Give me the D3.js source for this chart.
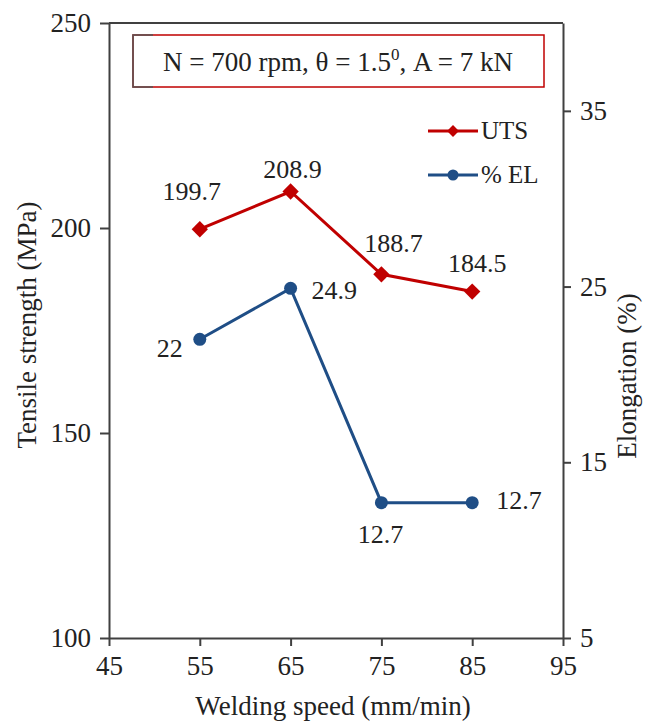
<!DOCTYPE html>
<html>
<head>
<meta charset="utf-8">
<script src="https://cdn.jsdelivr.net/npm/d3@7/dist/d3.min.js"></script>
<style>
  html, body { margin: 0; padding: 0; background: #fff; }
  svg { display: block; }
</style>
</head>
<body>
<svg id="chart" width="656" height="722"></svg>
<script>
// Welding speed (mm/min)
const speeds = [55, 65, 75, 85];
// Ultimate tensile strength (MPa)
const utsValues = [199.7, 208.9, 188.7, 184.5];
// Elongation (%)
const elValues = [22, 24.9, 12.7, 12.7];

const xTicks = [45, 55, 65, 75, 85, 95];
const yLeftTicks = [100, 150, 200, 250];
const yRightTicks = [5, 15, 25, 35];

const seriesNames = ["UTS", "% EL"];
const paramText = ["N = 700 rpm, θ = 1.5", "0", ", A = 7 kN"];

const RED = "#C00000";
const BLUE = "#1F4E86";
const AXIS = "#404040";
const INK = "#222222";
const SERIF = '"Liberation Serif", "Times New Roman", "DejaVu Serif", serif';

const svg = d3.select("#chart");
const m = { left: 109, right: 563, top: 23, bottom: 638 };

const x = d3.scaleLinear().domain([45, 95]).range([m.left, m.right]);
const yL = d3.scaleLinear().domain([100, 250]).range([m.bottom, m.top]);
const yR = d3.scaleLinear().domain([5, 40]).range([m.bottom, m.top]);

function txt(sel, size) {
  return sel.style("font-family", SERIF).style("font-size", size + "px").attr("fill", INK);
}

// top edge of plot area
svg.append("line")
  .attr("x1", m.left).attr("x2", m.right)
  .attr("y1", m.top).attr("y2", m.top)
  .attr("stroke", AXIS).attr("stroke-width", 2);

function styleAxis(g) {
  g.attr("font-family", null).attr("font-size", null);
  g.select(".domain").attr("stroke", AXIS).attr("stroke-width", 2);
  g.selectAll(".tick line").attr("stroke", AXIS).attr("stroke-width", 2);
  txt(g.selectAll(".tick text"), 27);
}

// bottom axis
svg.append("g")
  .attr("transform", `translate(0,${m.bottom})`)
  .call(d3.axisBottom(x).tickValues(xTicks).tickSize(8).tickPadding(10).tickSizeOuter(0))
  .call(styleAxis);

// left axis
svg.append("g")
  .attr("transform", `translate(${m.left},0)`)
  .call(d3.axisLeft(yL).tickValues(yLeftTicks).tickSize(9).tickPadding(9).tickSizeOuter(0))
  .call(styleAxis);

// right axis
svg.append("g")
  .attr("transform", `translate(${m.right},0)`)
  .call(d3.axisRight(yR).tickValues(yRightTicks).tickSize(8).tickPadding(9).tickSizeOuter(0))
  .call(styleAxis);

// axis titles
svg.append("text")
  .attr("x", (m.left + m.right) / 2 - 3).attr("y", 715)
  .attr("text-anchor", "middle")
  .call(txt, 27)
  .text("Welding speed (mm/min)");

svg.append("text")
  .attr("transform", "translate(36,325) rotate(-90)")
  .attr("text-anchor", "middle")
  .call(txt, 27)
  .text("Tensile strength (MPa)");

svg.append("text")
  .attr("transform", "translate(636,376) rotate(-90)")
  .attr("text-anchor", "middle")
  .call(txt, 27)
  .text("Elongation (%)");

// parameter box
const box = svg.append("g");
box.append("rect")
  .attr("x", 133).attr("y", 35).attr("width", 411).attr("height", 52)
  .attr("fill", "#fff").attr("stroke", RED).attr("stroke-width", 1.5);
box.append("path")
  .attr("d", "M153,35 H133 V87 H153")
  .attr("fill", "none").attr("stroke", "#555").attr("stroke-width", 1.5);
const pt = box.append("text")
  .attr("x", 338).attr("y", 71)
  .attr("text-anchor", "middle")
  .call(txt, 27);
pt.append("tspan").text(paramText[0]);
pt.append("tspan").attr("dy", -11).style("font-size", "17px").text(paramText[1]);
pt.append("tspan").attr("dy", 11).text(paramText[2]);

// series
const uts = speeds.map((s, i) => ({ x: s, y: utsValues[i] }));
const el = speeds.map((s, i) => ({ x: s, y: elValues[i] }));

const lineL = d3.line().x(d => x(d.x)).y(d => yL(d.y));
const lineR = d3.line().x(d => x(d.x)).y(d => yR(d.y));

svg.append("path").datum(uts)
  .attr("d", lineL).attr("fill", "none")
  .attr("stroke", RED).attr("stroke-width", 3);
svg.append("path").datum(el)
  .attr("d", lineR).attr("fill", "none")
  .attr("stroke", BLUE).attr("stroke-width", 3);

const diamond = d3.symbol().type(d3.symbolDiamond2).size(170);
svg.selectAll(".uts-pt").data(uts).join("path")
  .attr("transform", d => `translate(${x(d.x)},${yL(d.y)})`)
  .attr("d", diamond).attr("fill", RED);

svg.selectAll(".el-pt").data(el).join("circle")
  .attr("cx", d => x(d.x)).attr("cy", d => yR(d.y))
  .attr("r", 6.5).attr("fill", BLUE);

// value labels: offsets relative to each point
const utsOffsets = [[-8, -29], [2, -14], [12, -22], [5, -20]];
const elOffsets = [[-17, 18, "end"], [21, 11, "start"], [-1, 40, "middle"], [24, 6, "start"]];

svg.selectAll(".uts-lbl").data(uts).join("text")
  .attr("x", (d, i) => x(d.x) + utsOffsets[i][0])
  .attr("y", (d, i) => yL(d.y) + utsOffsets[i][1])
  .attr("text-anchor", "middle")
  .call(txt, 26)
  .text(d => d.y);

svg.selectAll(".el-lbl").data(el).join("text")
  .attr("x", (d, i) => x(d.x) + elOffsets[i][0])
  .attr("y", (d, i) => yR(d.y) + elOffsets[i][1])
  .attr("text-anchor", (d, i) => elOffsets[i][2])
  .call(txt, 26)
  .text(d => d.y);

// legend
const legend = svg.append("g");
const legendRows = [
  { name: seriesNames[0], color: RED, y: 131, mark: "diamond" },
  { name: seriesNames[1], color: BLUE, y: 175, mark: "circle" }
];
legendRows.forEach(r => {
  legend.append("line")
    .attr("x1", 428).attr("x2", 478).attr("y1", r.y).attr("y2", r.y)
    .attr("stroke", r.color).attr("stroke-width", 3);
  if (r.mark === "diamond") {
    legend.append("path")
      .attr("transform", `translate(453,${r.y})`)
      .attr("d", d3.symbol().type(d3.symbolDiamond2).size(90))
      .attr("fill", r.color);
  } else {
    legend.append("circle")
      .attr("cx", 453).attr("cy", r.y).attr("r", 5.5).attr("fill", r.color);
  }
  legend.append("text")
    .attr("x", 481).attr("y", r.y + 8)
    .call(txt, 25)
    .text(r.name);
});
</script>
</body>
</html>
